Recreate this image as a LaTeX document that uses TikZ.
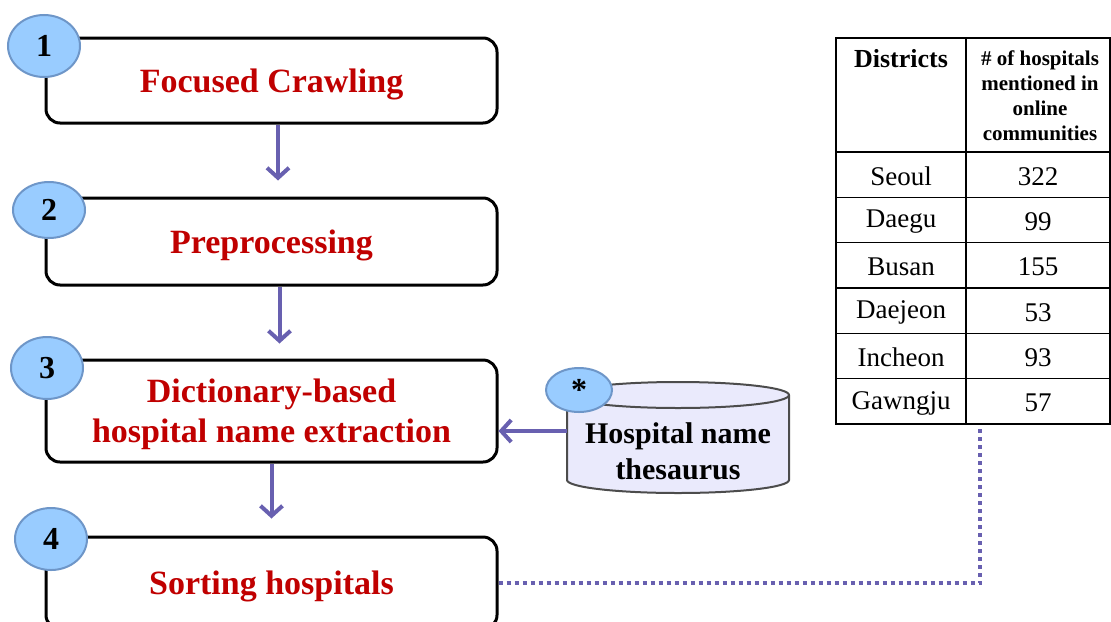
\documentclass[tikz,border=0pt]{standalone}
\usepackage{fontspec}
\setmainfont{Liberation Serif}
\usetikzlibrary{arrows.meta,shapes.geometric}

\definecolor{stepred}{RGB}{192,0,0}
\definecolor{flowblue}{RGB}{104,96,176}
\definecolor{badgeblue}{RGB}{153,204,255}
\definecolor{badgeline}{RGB}{110,150,200}
\definecolor{drumfill}{RGB}{234,234,252}

\tikzset{
	stepbox/.style={draw=black, line width=1.5pt, rounded corners=7pt, fill=white, minimum width=225.5pt, text=stepred, text depth=0pt, font=\fontsize{17}{20}\selectfont\bfseries, align=center},
	badge/.style={ellipse, draw=badgeline, line width=1pt, fill=badgeblue, minimum width=36pt, minimum height=31pt, inner sep=0pt, font=\fontsize{16}{16}\selectfont\bfseries},
	flow/.style={draw=flowblue, line width=2pt, -{Straight Barb[length=5pt,width=11pt]}},
	link/.style={draw=flowblue, line width=2pt, dotted},
	drum/.style={draw=black!70, line width=1pt},
	cell/.style={font=\fontsize{13.5}{15}\selectfont, inner sep=0pt},
}

\begin{document}
\begin{tikzpicture}[x=0.5pt,y=-0.5pt]
			\useasboundingbox (0,0) rectangle (1111,621);
			\node[stepbox, minimum height=42.5pt] (crawl) at (271.5,80.5) {Focused Crawling};
			\node[stepbox, minimum height=43.5pt] (prep) at (271.5,241.5) {Preprocessing};
			\node[stepbox, minimum height=51pt] (extract) at (271.5,411) {Dictionary-based\\hospital name extraction};
			\node[stepbox, minimum height=46pt] (sort) at (271.5,583) {Sorting hospitals};
			\node[badge] (n1) at (44,46) {1};
			\node[badge, minimum height=28pt] (n2) at (49,210) {2};
			\node[badge] (n3) at (47,368) {3};
			\node[badge] (n4) at (51,539) {4};
			\draw[flow, shorten >=8pt] ([xshift=3.25pt]crawl.south) -- ([xshift=3.25pt]prep.north);
			\draw[flow, shorten >=7.5pt] ([xshift=4pt]prep.south) -- ([xshift=4pt]extract.north);
			\draw[flow, shorten >=8.5pt] (extract.south) -- (sort.north);
			\draw[drum, fill=drumfill] (567,395) -- (567,480) arc (180:0:111 and 13) -- (789,395) arc (0:-180:111 and 13) -- cycle;
			\draw[drum] (567,395) arc (180:0:111 and 13);
			\coordinate (thesin) at (567,431);
			\node[font=\fontsize{15}{18}\selectfont\bfseries, align=center] (thes) at (678,451) {Hospital name\\thesaurus};
			\node[badge, minimum width=33pt, minimum height=22pt] (star) at (579,390) {*};
			\draw[flow] (thesin) -- (thesin -| extract.east);
			\node[draw, line width=0.75pt, minimum width=137pt, minimum height=193pt, inner sep=0pt] (tbl) at (973,231) {};
			\draw[line width=0.75pt] (966,38) -- (966,424);
			\foreach \k in {0,...,5}
				\draw[line width=0.75pt] (836,152+45.33*\k) -- (1110,152+45.33*\k);
			\node[cell, font=\fontsize{13}{15}\selectfont\bfseries, anchor=north] (hdist) at (901,49) {Districts};
			\node[cell, font=\fontsize{10.5}{12.5}\selectfont\bfseries, align=center] (hcount) at (1040,95.5) {\# of hospitals\\mentioned in\\online\\communities};
			\foreach \district/\total [count=\i] in {Seoul/322, Daegu/99, Busan/155, Daejeon/53, Incheon/93, Gawngju/57} {
				\node[cell] (d\i) at (901,131+45.33*\i) {\district};
				\node[cell] (c\i) at (1038,131+45.33*\i) {\total};
			}
			\draw[link] (sort.east) -| ([xshift=3.5pt]tbl.south);
		\end{tikzpicture}
\end{document}
